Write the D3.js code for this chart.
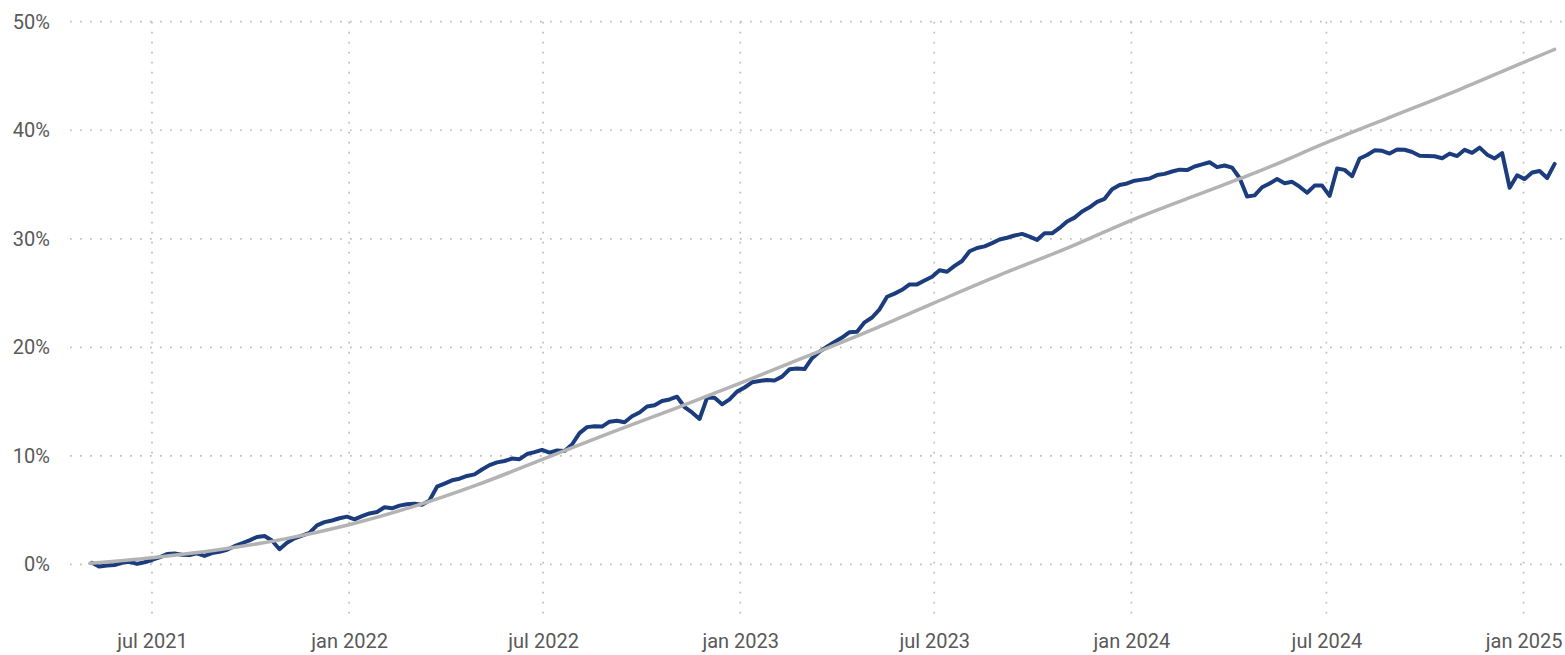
<!DOCTYPE html>
<html>
<head>
<meta charset="utf-8">
<script src="https://cdn.jsdelivr.net/npm/d3@7"></script>
<style>
	body { margin: 0; background: #fff; }
	#chart { width: 1565px; height: 655px; }
</style>
</head>
<body>
<div id="chart"></div>
<script>
// Data
// weekly closing values (%), first week starting 6 May 2021
const firstWeek = '2021-05-06'
const actual = [
	0.15, -0.2, -0.1, -0.05, 0.15, 0.25, 0.05, 0.2, 0.41, 0.65,
	0.95, 1.0, 0.9, 0.87, 1.03, 0.78, 1.05, 1.17, 1.35, 1.68,
	1.95, 2.22, 2.53, 2.62, 2.2, 1.4, 2.0, 2.4, 2.65, 2.9,
	3.6, 3.9, 4.05, 4.25, 4.4, 4.15, 4.45, 4.7, 4.83, 5.27,
	5.17, 5.42, 5.54, 5.6, 5.5, 5.9, 7.16, 7.45, 7.75, 7.9,
	8.15, 8.3, 8.75, 9.15, 9.4, 9.53, 9.75, 9.7, 10.17, 10.35,
	10.55, 10.3, 10.5, 10.45, 11.05, 12.1, 12.65, 12.72, 12.7, 13.15,
	13.24, 13.1, 13.65, 14.0, 14.55, 14.66, 15.05, 15.2, 15.45, 14.5,
	14.0, 13.4, 15.35, 15.35, 14.75, 15.2, 15.92, 16.3, 16.78, 16.9,
	17.0, 16.95, 17.3, 17.98, 18.06, 18.0, 19.0, 19.6, 20.05, 20.5,
	20.9, 21.4, 21.44, 22.3, 22.75, 23.5, 24.66, 24.95, 25.3, 25.8,
	25.8, 26.15, 26.5, 27.1, 26.96, 27.5, 27.95, 28.85, 29.15, 29.3,
	29.6, 29.93, 30.1, 30.3, 30.45, 30.2, 29.9, 30.5, 30.5, 31.0,
	31.6, 31.95, 32.52, 32.9, 33.4, 33.68, 34.57, 34.96, 35.1, 35.35,
	35.45, 35.55, 35.87, 35.98, 36.2, 36.37, 36.33, 36.66, 36.85, 37.05,
	36.6, 36.75, 36.55, 35.6, 33.9, 34.0, 34.75, 35.1, 35.5, 35.12,
	35.25, 34.8, 34.24, 34.9, 34.9, 33.95, 36.48, 36.35, 35.77, 37.4,
	37.72, 38.15, 38.1, 37.85, 38.22, 38.2, 38.0, 37.65, 37.62, 37.6,
	37.42, 37.85, 37.62, 38.2, 37.92, 38.4, 37.75, 37.4, 37.9, 34.7,
	35.85, 35.5, 36.1, 36.25, 35.6, 36.9
]

// smooth reference curve
const targetDates = [
	'2021-05-04', '2021-07-01', '2021-09-01', '2021-11-01', '2022-01-01',
	'2022-03-01', '2022-05-01', '2022-07-01', '2022-09-01', '2022-11-01',
	'2023-01-01', '2023-03-01', '2023-05-01', '2023-07-01', '2023-09-01',
	'2023-11-01', '2024-01-01', '2024-03-01', '2024-05-01', '2024-07-01',
	'2024-09-01', '2024-11-01', '2025-01-01', '2025-01-30'
]
const target = [
	0.1, 0.62, 1.35, 2.33, 3.66,
	5.3, 7.35, 9.7, 12.1, 14.35,
	16.7, 19.05, 21.5, 24.1, 26.7,
	29.1, 31.7, 34.0, 36.3, 38.85,
	41.3, 43.7, 46.25, 47.45
]

const yTicks = [0, 10, 20, 30, 40, 50]
const xTicks = ['2021-07-01', '2022-01-01', '2022-07-01', '2023-01-01', '2023-07-01', '2024-01-01', '2024-07-01', '2025-01-01']

async function draw() {
	const parse = d3.timeParse('%Y-%m-%d')
	const start = parse(firstWeek)

	const actualData = actual.map((v, i) => ({ date: d3.timeDay.offset(start, 7 * i), value: v }))
	const targetData = target.map((v, i) => ({ date: parse(targetDates[i]), value: v }))

	// Dimensions
	let dimensions = {
		width: 1565,
		height: 655,
		margin: {
			top: 21.7,
			bottom: 36.3,
			left: 70,
			right: 0
		}
	}

	const xAccessor = (d) => d.date
	const yAccessor = (d) => d.value

	// Draw Image
	const svg = d3.select('#chart')
		.append('svg')
		.attr('width', dimensions.width)
		.attr('height', dimensions.height)

	// Scales
	const xScale = d3.scaleTime()
		.domain([new Date(2021, 3, 15, 12), new Date(2025, 1, 8, 16)])
		.range([dimensions.margin.left, dimensions.width - dimensions.margin.right])

	const yScale = d3.scaleLinear()
		.domain([-5, 50])
		.range([dimensions.height - dimensions.margin.bottom, dimensions.margin.top])

	// Gridlines
	const grid = svg.append('g')
		.attr('stroke', '#bdbdbd')
		.attr('stroke-width', 1.7)
		.attr('stroke-dasharray', '1.7,8.3')

	grid.selectAll('.hgrid')
		.data(yTicks)
		.join('line')
		.attr('class', 'hgrid')
		.attr('x1', xScale.range()[0])
		.attr('x2', xScale.range()[1])
		.attr('y1', d => yScale(d))
		.attr('y2', d => yScale(d))

	grid.selectAll('.vgrid')
		.data(xTicks.map(parse))
		.join('line')
		.attr('class', 'vgrid')
		.attr('x1', d => xScale(d))
		.attr('x2', d => xScale(d))
		.attr('y1', yScale(50))
		.attr('y2', yScale(-5))

	// Axes labels
	const yAxis = d3.axisLeft(yScale)
		.tickValues(yTicks)
		.tickFormat(d => d + '%')
		.tickSize(0)
		.tickPadding(0)

	const yAxisGroup = svg.append('g')
		.attr('transform', 'translate(50, 0)')
		.call(yAxis)
	yAxisGroup.select('.domain').remove()
	yAxisGroup.selectAll('text')
		.attr('font-family', 'Roboto, sans-serif')
		.attr('font-size', 20)
		.attr('fill', '#595959')

	const fmt = d3.timeFormat('%b %Y')
	const xAxis = d3.axisBottom(xScale)
		.tickValues(xTicks.map(parse))
		.tickFormat(d => fmt(d).toLowerCase())
		.tickSize(0)
		.tickPadding(0)

	const xAxisGroup = svg.append('g')
		.attr('transform', 'translate(0, 634)')
		.call(xAxis)
	xAxisGroup.select('.domain').remove()
	xAxisGroup.selectAll('text')
		.attr('font-family', 'Roboto, sans-serif')
		.attr('font-size', 20)
		.attr('fill', '#595959')

	// Lines
	const actualLine = d3.line()
		.x(d => xScale(xAccessor(d)))
		.y(d => yScale(yAccessor(d)))

	const targetLine = d3.line()
		.x(d => xScale(xAccessor(d)))
		.y(d => yScale(yAccessor(d)))
		.curve(d3.curveMonotoneX)

	svg.append('path')
		.datum(actualData)
		.attr('d', actualLine)
		.attr('fill', 'none')
		.attr('stroke', '#1b3d7e')
		.attr('stroke-width', 4)
		.attr('stroke-linejoin', 'round')
		.attr('stroke-linecap', 'round')

	svg.append('path')
		.datum(targetData)
		.attr('d', targetLine)
		.attr('fill', 'none')
		.attr('stroke', '#b3b3b3')
		.attr('stroke-width', 3.5)
		.attr('stroke-linecap', 'round')
}

draw()
</script>
</body>
</html>
